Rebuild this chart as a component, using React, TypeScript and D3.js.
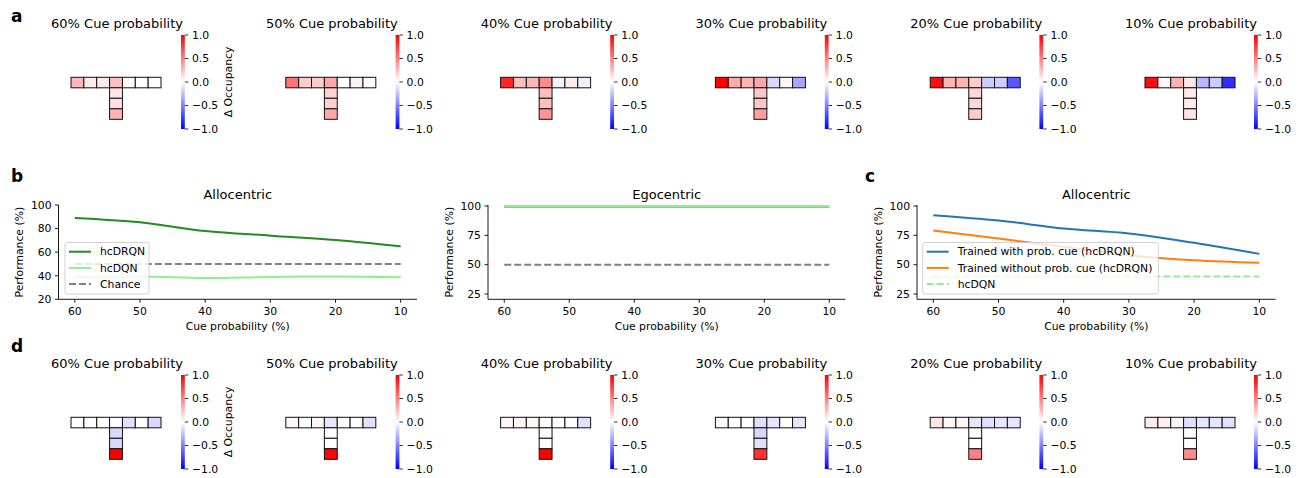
import * as d3 from "d3";

// cue probabilities (%)
const cueProbs = [60, 50, 40, 30, 20, 10];
const cueLabels = ["60%", "50%", "40%", "30%", "20%", "10%"];

// panel b – allocentric / egocentric performance (%)
const alloDRQN = [89, 85.3, 77.9, 74, 70.3, 65];
const alloDQN = [38.7, 39.3, 38, 39, 39.3, 38.7];
const egoDRQN = [99.6, 99.6, 99.6, 99.6, 99.6, 99.6];
const egoDQN = [100, 100, 100, 100, 100, 100];
const chance = [50, 50, 50, 50, 50, 50];

// panel c – allocentric, trained with / without prob. cue
const withCue = [92.2, 87.6, 80.8, 76.6, 68.6, 59.2];
const withoutCue = [79.1, 72.3, 65.2, 58.1, 53.8, 51.6];
const hcDQNc = [40, 40, 40, 40, 40, 40];

// Δ occupancy, T-maze: 7 arm cells (left→right) + 3 stem cells (top→bottom)
const occArmA = [
  [0.28, 0.08, 0.08, 0.25, 0.02, 0, 0],
  [0.55, 0.2, 0.2, 0.35, 0, 0.05, 0],
  [0.85, 0.25, 0.28, 0.45, -0.05, 0.08, -0.06],
  [1.0, 0.33, 0.3, 0.35, -0.15, 0.03, -0.35],
  [0.95, 0.3, 0.3, 0.2, -0.2, -0.2, -0.65],
  [0.95, 0.03, 0.3, 0.1, -0.28, -0.2, -0.82],
];
const occStemA = [
  [0.1, 0.12, 0.3],
  [0.18, 0.18, 0.35],
  [0.25, 0.25, 0.42],
  [0.22, 0.22, 0.38],
  [0.15, 0.15, 0.2],
  [0.08, 0.08, 0.1],
];
const occArmD = [
  [0, 0, 0, 0, -0.12, 0, -0.15],
  [0.03, 0, 0.03, -0.1, 0, 0, -0.12],
  [0.04, 0.04, 0.04, 0, 0, 0, -0.12],
  [0.03, 0, 0, -0.12, -0.1, 0, -0.1],
  [0.1, 0.04, 0.03, -0.1, -0.12, -0.1, -0.1],
  [0.08, 0.06, 0.04, -0.12, -0.1, -0.1, -0.12],
];
const occStemD = [
  [-0.15, -0.15, 1.0],
  [0, 0, 0.98],
  [0, 0, 1.0],
  [-0.15, -0.12, 0.8],
  [0, 0, 0.5],
  [0, 0, 0.45],
];
const cbTicks = [-1, -0.5, 0, 0.5, 1];

const FONT = "DejaVu Sans";
const bwr = d3
  .scaleLinear<string>()
  .domain([-1, 0, 1])
  .range(["#0000ff", "#ffffff", "#ff0000"]);

const fmtTick = (v: number) => (v < 0 ? "\u2212" + Math.abs(v).toFixed(1) : v.toFixed(1));

function Heatmap({ i, y0, arm, stem, first }: any) {
  const cellW = 12.86;
  const cellH = 10.5;
  const x0 = 71 + i * 214.8;
  const xs = d3.scaleLinear().domain([0, 7]).range([x0, x0 + 7 * cellW]);
  const ys = d3.scaleLinear().domain([0, 4]).range([y0, y0 + 4 * cellH]);
  const cbX = 181 + i * 214.6;
  const cbTop = y0 - 42.3;
  const cbBot = y0 + 51.7;
  const cy = d3.scaleLinear().domain([-1, 1]).range([cbBot, cbTop]);
  const gid = `bwr-${y0}-${i}`;
  const cells = [
    ...arm.map((v: number, c: number) => ({ c, r: 0, v })),
    ...stem.map((v: number, r: number) => ({ c: 3, r: r + 1, v })),
  ];
  return (
    <g>
      <text x={(xs(0) + xs(7)) / 2 + 1} y={y0 - 49} textAnchor="middle" fontSize={13}>
        {cueLabels[i]} Cue probability
      </text>
      {cells.map((d, k) => (
        <rect
          key={k}
          x={xs(d.c)}
          y={ys(d.r)}
          width={cellW}
          height={cellH}
          fill={bwr(d.v)}
          stroke="#111"
          strokeWidth={1}
        />
      ))}
      <defs>
        <linearGradient id={gid} x1="0" y1="1" x2="0" y2="0">
          <stop offset="0%" stopColor="#0000ff" />
          <stop offset="50%" stopColor="#ffffff" />
          <stop offset="100%" stopColor="#ff0000" />
        </linearGradient>
      </defs>
      <rect x={cbX} y={cbTop} width={3.8} height={cbBot - cbTop} fill={`url(#${gid})`} />
      {cbTicks.map((t) => (
        <g key={t}>
          <line x1={cbX + 3.8} x2={cbX + 7.3} y1={cy(t)} y2={cy(t)} stroke="#000" strokeWidth={0.8} />
          <text x={cbX + 11} y={cy(t)} dy="0.35em" fontSize={10.8}>
            {fmtTick(t)}
          </text>
        </g>
      ))}
      {first && (
        <text
          transform={`translate(${cbX + 47},${(cbTop + cbBot) / 2}) rotate(-90)`}
          textAnchor="middle"
          dy="0.35em"
          fontSize={10.8}
        >
          Δ Occupancy
        </text>
      )}
    </g>
  );
}

function LineChart({ x0, x1, yDomain, yTicks, title, series, legend, legendBox }: any) {
  const top = 205;
  const bottom = 299.3;
  const x = d3.scaleLinear().domain([62.5, 7.5]).range([x0, x1]);
  const y = d3.scaleLinear().domain(yDomain).range([bottom, top]);
  const line = d3
    .line<number>()
    .x((_, k) => x(cueProbs[k]))
    .y((d) => y(d))
    .curve(d3.curveMonotoneX);
  return (
    <g>
      <text x={(x0 + x1) / 2} y={198.5} textAnchor="middle" fontSize={13}>
        {title}
      </text>
      {series.map((s: any, k: number) => (
        <path
          key={k}
          d={line(s.values) || ""}
          fill="none"
          stroke={s.color}
          strokeWidth={2}
          strokeDasharray={s.dash ? "7,3" : undefined}
        />
      ))}
      <line x1={x0} x2={x0} y1={top} y2={bottom} stroke="#000" strokeWidth={0.9} />
      <line x1={x0} x2={x1} y1={bottom} y2={bottom} stroke="#000" strokeWidth={0.9} />
      {yTicks.map((t: number) => (
        <g key={t}>
          <line x1={x0 - 3.5} x2={x0} y1={y(t)} y2={y(t)} stroke="#000" strokeWidth={0.9} />
          <text x={x0 - 7} y={y(t)} dy="0.35em" textAnchor="end" fontSize={10.8}>
            {t}
          </text>
        </g>
      ))}
      {cueProbs.map((t) => (
        <g key={t}>
          <line x1={x(t)} x2={x(t)} y1={bottom} y2={bottom + 3.5} stroke="#000" strokeWidth={0.9} />
          <text x={x(t)} y={311.7} dy="0.35em" textAnchor="middle" fontSize={10.8}>
            {t}
          </text>
        </g>
      ))}
      <text x={(x0 + x1) / 2} y={326.7} dy="0.35em" textAnchor="middle" fontSize={10.8}>
        Cue probability (%)
      </text>
      <text
        transform={`translate(${x0 - 39},${(top + bottom) / 2}) rotate(-90)`}
        textAnchor="middle"
        dy="0.35em"
        fontSize={10.8}
      >
        Performance (%)
      </text>
      {legend && (
        <g>
          <rect
            x={legendBox[0]}
            y={242.5}
            width={legendBox[1]}
            height={51.5}
            rx={2.5}
            fill="#fff"
            fillOpacity={0.8}
            stroke="#cccccc"
            strokeWidth={0.9}
          />
          {legend.map((l: any, k: number) => {
            const ly = 251.7 + k * 16.2;
            return (
              <g key={k}>
                <line
                  x1={legendBox[0] + 4}
                  x2={legendBox[0] + 26}
                  y1={ly}
                  y2={ly}
                  stroke={l.color}
                  strokeWidth={2}
                  strokeDasharray={l.dash ? "7,3" : undefined}
                />
                <text x={legendBox[0] + 35} y={ly} dy="0.35em" fontSize={10.8}>
                  {l.name}
                </text>
              </g>
            );
          })}
        </g>
      )}
    </g>
  );
}

export default function App() {
  const dark = "#228b22";
  const light = "#90ee90";
  const gray = "#808080";
  return (
    <svg
      width={1300}
      height={478}
      style={{ position: "absolute", left: 0, top: 0, background: "#fff" }}
      fontFamily={FONT}
      fill="#000"
    >
      <rect width={1300} height={478} fill="#fff" />
      {[["a", 22], ["b", 182], ["d", 352]].map(([l, yy]: any) => (
        <text key={l} x={11} y={yy} fontSize={17} fontWeight="bold">
          {l}
        </text>
      ))}
      <text x={865} y={182} fontSize={17} fontWeight="bold">
        c
      </text>
      {cueProbs.map((_, i) => (
        <Heatmap key={"a" + i} i={i} y0={77.3} arm={occArmA[i]} stem={occStemA[i]} first={i === 0} />
      ))}
      {cueProbs.map((_, i) => (
        <Heatmap key={"d" + i} i={i} y0={417.3} arm={occArmD[i]} stem={occStemD[i]} first={i === 0} />
      ))}
      <LineChart
        x0={58.5}
        x1={417}
        yDomain={[20, 100]}
        yTicks={[20, 40, 60, 80, 100]}
        title="Allocentric"
        series={[
          { values: alloDRQN, color: dark },
          { values: alloDQN, color: light },
          { values: chance, color: gray, dash: true },
        ]}
        legend={[
          { name: "hcDRQN", color: dark },
          { name: "hcDQN", color: light },
          { name: "Chance", color: gray, dash: true },
        ]}
        legendBox={[65, 84]}
      />
      <LineChart
        x0={488}
        x1={845.5}
        yDomain={[20.5, 100.85]}
        yTicks={[25, 50, 75, 100]}
        title="Egocentric"
        series={[
          { values: egoDRQN, color: dark },
          { values: egoDQN, color: light },
          { values: chance, color: gray, dash: true },
        ]}
      />
      <LineChart
        x0={917}
        x1={1275.6}
        yDomain={[20.5, 100.85]}
        yTicks={[25, 50, 75, 100]}
        title="Allocentric"
        series={[
          { values: withCue, color: "#1f77b4" },
          { values: withoutCue, color: "#ff7f0e" },
          { values: hcDQNc, color: light, dash: true },
        ]}
        legend={[
          { name: "Trained with prob. cue (hcDRQN)", color: "#1f77b4" },
          { name: "Trained without prob. cue (hcDRQN)", color: "#ff7f0e" },
          { name: "hcDQN", color: light, dash: true },
        ]}
        legendBox={[922.7, 235.6]}
      />
    </svg>
  );
}
